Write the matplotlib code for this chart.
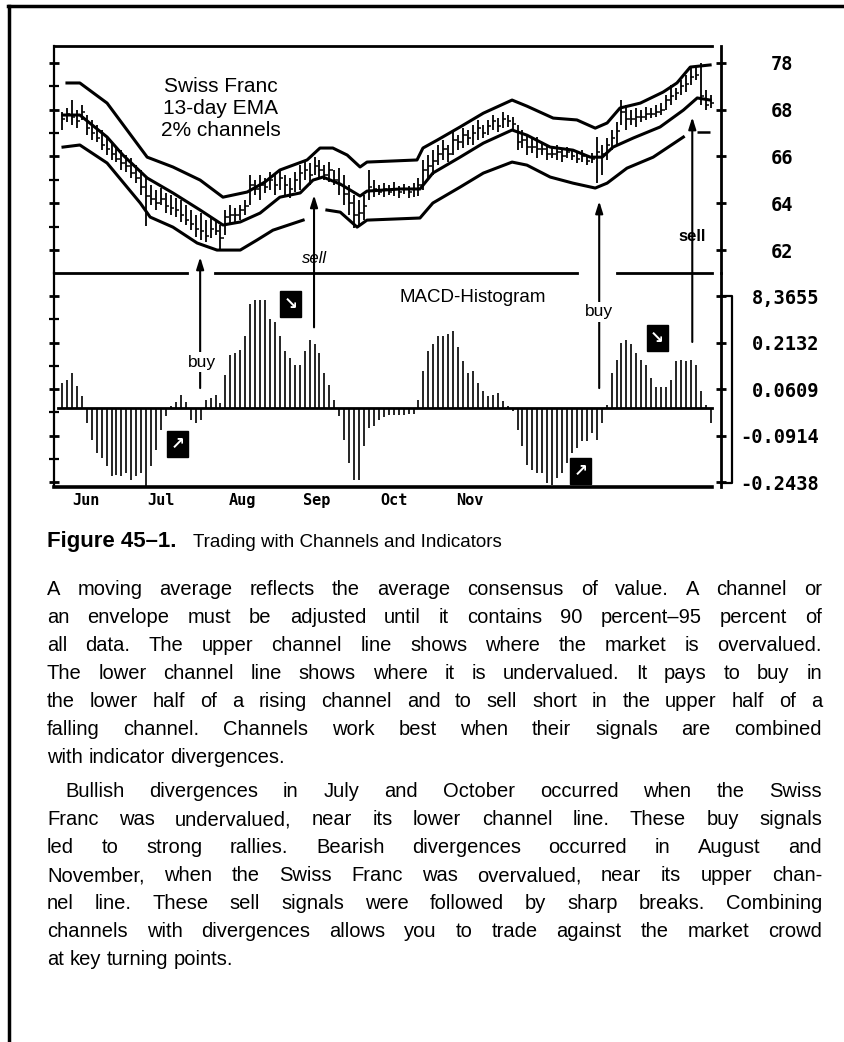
import numpy as np
import matplotlib
matplotlib.use("Agg")
import matplotlib.pyplot as plt
from matplotlib import font_manager as fm
from matplotlib.font_manager import FontProperties
from matplotlib.ticker import FixedLocator

W, H = 845, 1042

# ---------------- data ----------------
month_labels = ["Jun", "Jul", "Aug", "Sep", "Oct", "Nov"]
month_pos = [4.8, 20.0, 36.4, 51.5, 67.1, 82.4]

price_ticks = [62, 64, 66, 68, 70]
price_tick_labels = ["62", "64", "66", "68", "78"]
price_minor_ticks = [61, 62, 63, 64, 65, 66, 67, 68, 69, 70]
hist_ticks = [0.3655, 0.2132, 0.0609, -0.0914, -0.2438]
hist_tick_labels = ["8,3655", "0.2132", "0.0609", "-0.0914", "-0.2438"]
hist_minor_ticks = [0.3655, 0.2894, 0.2132, 0.1371, 0.0609, -0.0152, -0.0914, -0.1676, -0.2438]

bar_high = [67.90, 68.07, 68.41, 67.98, 68.20, 67.77, 67.56, 67.34, 67.13, 66.83,
            66.62, 66.40, 66.27, 66.06, 65.94, 65.63, 65.42, 65.08, 64.78, 64.56,
            64.65, 64.44, 64.35, 64.22, 64.14, 63.92, 63.71, 63.50, 63.58, 63.28,
            63.37, 63.28, 63.07, 63.71, 63.92, 63.79, 63.92, 64.14, 65.21, 64.99,
            65.21, 65.08, 65.34, 65.21, 65.42, 65.21, 65.08, 65.34, 65.63, 65.85,
            65.72, 65.97, 65.85, 65.63, 65.76, 65.42, 65.51, 65.21, 64.78, 64.35,
            64.14, 64.35, 65.42, 64.99, 64.78, 64.86, 64.78, 64.91, 64.74, 64.82,
            64.74, 64.86, 65.08, 65.85, 66.06, 66.27, 66.49, 66.70, 66.49, 67.13,
            66.91, 67.21, 67.13, 67.34, 67.56, 67.34, 67.56, 67.77, 67.64, 67.90,
            67.77, 67.69, 67.34, 67.13, 66.91, 66.79, 66.83, 66.62, 66.49, 66.36,
            66.49, 66.27, 66.40, 66.27, 66.19, 66.27, 66.06, 66.15, 66.83, 66.49,
            66.79, 67.13, 67.47, 68.41, 68.20, 67.98, 68.07, 67.98, 68.11, 68.07,
            68.20, 68.28, 68.62, 69.05, 68.92, 69.26, 69.48, 69.78, 69.91, 70.00,
            68.84, 68.62]
bar_low = [67.13, 67.47, 67.34, 67.21, 67.56, 66.91, 66.70, 66.62, 66.27, 66.06,
           65.85, 65.76, 65.42, 65.34, 65.08, 64.86, 64.35, 63.02, 63.92, 63.71,
           63.92, 63.58, 63.50, 63.41, 63.20, 63.07, 62.85, 62.56, 62.43, 62.34,
           62.51, 62.64, 62.00, 62.64, 63.07, 63.20, 63.28, 63.50, 63.92, 64.35,
           64.14, 64.44, 64.56, 64.35, 64.56, 64.35, 64.22, 64.48, 64.56, 64.99,
           64.78, 65.21, 65.08, 64.99, 64.91, 64.78, 64.35, 63.92, 63.50, 62.94,
           63.07, 63.28, 64.14, 64.26, 64.35, 64.26, 64.35, 64.31, 64.22, 64.39,
           64.22, 64.26, 64.31, 64.56, 64.99, 65.21, 65.63, 65.85, 65.76, 66.06,
           66.27, 66.36, 66.49, 66.49, 66.70, 66.79, 66.91, 67.13, 67.04, 67.21,
           67.26, 67.13, 66.27, 66.36, 66.06, 66.15, 65.94, 66.06, 65.85, 65.94,
           65.85, 65.76, 65.94, 65.85, 65.72, 65.76, 65.63, 65.72, 64.86, 65.21,
           65.85, 66.27, 66.49, 67.34, 67.13, 67.34, 67.26, 67.47, 67.56, 67.64,
           67.69, 67.77, 67.98, 68.20, 68.41, 68.62, 68.75, 69.05, 69.26, 68.20,
           67.98, 68.07]
bar_close = [67.6, 67.8, 67.7, 67.5, 67.9, 67.2, 67.0, 66.8, 66.5, 66.3,
             66.1, 65.9, 65.7, 65.6, 65.3, 65.1, 64.7, 64.3, 64.2, 64.0,
             64.2, 63.9, 63.8, 63.7, 63.5, 63.3, 63.1, 62.9, 62.8, 62.6,
             62.9, 62.8, 62.5, 63.4, 63.5, 63.5, 63.7, 63.9, 64.8, 64.6,
             64.8, 64.7, 65.0, 64.8, 65.1, 64.8, 64.6, 65.0, 65.3, 65.4,
             65.2, 65.6, 65.4, 65.2, 65.4, 65.0, 64.8, 64.4, 64.0, 63.5,
             63.6, 63.9, 64.7, 64.6, 64.5, 64.6, 64.5, 64.6, 64.5, 64.6,
             64.5, 64.6, 64.8, 65.4, 65.6, 65.8, 66.1, 66.3, 66.1, 66.7,
             66.6, 66.9, 66.8, 67.0, 67.2, 67.0, 67.3, 67.5, 67.3, 67.6,
             67.5, 67.4, 66.6, 66.7, 66.4, 66.4, 66.3, 66.3, 66.1, 66.1,
             66.2, 66.0, 66.2, 66.0, 65.9, 66.0, 65.8, 65.9, 66.2, 66.1,
             66.5, 66.8, 67.1, 67.9, 67.6, 67.6, 67.7, 67.7, 67.8, 67.8,
             67.9, 68.0, 68.4, 68.6, 68.7, 69.0, 69.1, 69.4, 69.5, 68.6,
             68.2, 68.3]

ema_day = [0.2, 3.6, 9.1, 12.3, 17.2, 22.4, 27.9, 32.5, 36.0, 40.0, 44.0, 48.1,
           50.7, 52.7, 56.2, 60.2, 61.6, 68.3, 72.3, 74.9, 80.4, 85.1, 90.9, 93.9,
           98.6, 103.2, 106.7, 109.1, 111.3, 115.4, 120.8, 125.5, 128.3, 130.9]
ema_val = [67.77, 67.77, 66.83, 66.06, 65.08, 64.44, 63.71, 63.07, 63.20, 63.58,
           64.26, 64.44, 64.99, 65.12, 64.82, 64.31, 64.52, 64.61, 64.61, 65.29,
           65.97, 66.57, 67.13, 66.91, 66.40, 66.27, 65.97, 65.97, 66.40, 66.79,
           67.26, 67.98, 68.50, 68.41]

upper_day = [1.0, 3.6, 9.1, 17.2, 22.4, 27.9, 32.5, 37.4, 41.0, 44.0, 49.5, 52.1,
             54.7, 57.6, 60.2, 61.6, 71.7, 72.9, 75.8, 80.4, 85.1, 90.9, 93.9, 99.2,
             104.0, 107.7, 110.1, 112.7, 116.8, 121.4, 124.2, 126.9, 130.9]
upper_val = [69.14, 69.14, 68.28, 65.97, 65.55, 64.99, 64.26, 64.48, 64.91, 65.42,
             65.85, 66.36, 66.36, 66.06, 65.55, 65.76, 65.85, 66.36, 66.70, 67.26,
             67.85, 68.41, 68.15, 67.64, 67.56, 67.21, 67.43, 68.07, 68.28, 68.75,
             69.14, 69.82, 69.91]

lower_day = [0.2, 3.6, 9.1, 15.8, 17.8, 22.4, 27.3, 31.3, 36.0, 39.4, 42.6, 48.7,
             np.nan, 53.5, 56.2, 59.6, 61.6, 72.3, 74.9, 80.4, 85.1, 90.9, 93.9,
             98.6, 103.2, 107.7, 110.1, 114.1, 119.4, 125.5]
lower_val = [66.40, 66.49, 65.72, 64.01, 63.41, 62.98, 62.30, 62.00, 62.00, 62.43,
             62.85, 63.28, np.nan, 63.71, 63.62, 62.98, 63.28, 63.37, 64.01, 64.69,
             65.29, 65.76, 65.63, 65.12, 64.86, 64.65, 64.86, 65.50, 65.97, 66.83]

macd_hist = [0.082, 0.089, 0.115, 0.072, 0.039, -0.049, -0.105, -0.148, -0.164, -0.190,
             -0.223, -0.220, -0.223, -0.213, -0.236, -0.223, -0.213, -0.256, -0.190, -0.138,
             -0.072, -0.026, 0.005, 0.020, 0.040, 0.020, -0.040, -0.050, -0.040, 0.026,
             0.030, 0.043, 0.015, 0.108, 0.174, 0.180, 0.190, 0.236, 0.338, 0.354,
             0.354, 0.354, 0.289, 0.279, 0.236, 0.187, 0.164, 0.141, 0.138, 0.187,
             0.220, 0.207, 0.180, 0.115, 0.075, 0.026, -0.026, -0.105, -0.180, -0.236,
             -0.236, -0.125, -0.066, -0.060, -0.040, -0.030, -0.025, -0.025, -0.025, -0.025,
             -0.022, -0.020, 0.026, 0.120, 0.187, 0.207, 0.236, 0.236, 0.240, 0.252,
             0.197, 0.154, 0.115, 0.121, 0.082, 0.056, 0.039, 0.043, 0.049, 0.023,
             0.005, -0.010, -0.072, -0.125, -0.187, -0.203, -0.213, -0.213, -0.246, -0.252,
             -0.230, -0.213, -0.180, -0.148, -0.131, -0.108, -0.110, -0.082, -0.105, -0.049,
             0.007, 0.115, 0.157, 0.213, 0.223, 0.207, 0.180, 0.157, 0.138, 0.098,
             0.066, 0.066, 0.066, 0.089, 0.154, 0.157, 0.154, 0.157, 0.138, 0.056,
             0.010, -0.049]

days = np.arange(len(macd_hist))

# signals: label, day, arrow tip (price), arrow base (histogram)
signal_labels = ["buy", "sell", "buy", "sell"]
signal_days = [27.9, 50.9, 108.5, 127.3]
signal_tip = [61.70, 64.35, 64.09, 67.68]
signal_base = [0.064, 0.263, 0.064, 0.215]

box_arrows = ["\u2198", "\u2197", "\u2197", "\u2198"]
box_days = [46.1, 23.4, 104.8, 120.2]
box_vals = [0.339, -0.119, -0.208, 0.228]

caption_bold = "Figure 45\u20131."
caption_text = "Trading with Channels and Indicators"
paragraphs = [
    ["A moving average reflects the average consensus of value. A channel or",
     "an envelope must be adjusted until it contains 90 percent\u201395 percent of",
     "all data. The upper channel line shows where the market is overvalued.",
     "The lower channel line shows where it is undervalued. It pays to buy in",
     "the lower half of a rising channel and to sell short in the upper half of a",
     "falling channel. Channels work best when their signals are combined",
     "with indicator divergences."],
    ["Bullish divergences in July and October occurred when the Swiss",
     "Franc was undervalued, near its lower channel line. These buy signals",
     "led to strong rallies. Bearish divergences occurred in August and",
     "November, when the Swiss Franc was overvalued, near its upper chan-",
     "nel line. These sell signals were followed by sharp breaks. Combining",
     "channels with divergences allows you to trade against the market crowd",
     "at key turning points."],
]

# ---------------- figure ----------------
fig = plt.figure(figsize=(W / 100, H / 100), dpi=100)
fig.patch.set_facecolor("white")


def fx(x):
    return x / W


def fy(y):
    return 1 - y / H


names = {f.name for f in fm.fontManager.ttflist}
body_font = "Liberation Sans Narrow" if "Liberation Sans Narrow" in names else "Liberation Sans"
mono = "DejaVu Sans Mono"

ax_p = fig.add_axes([fx(54), fy(273), (721 - 54) / W, (273 - 46) / H])
ax_h = fig.add_axes([fx(54), fy(487), (721 - 54) / W, (487 - 273) / H])

XL = (-1.62, 133.1)
END = 131.3
ax_p.set_xlim(XL)
ax_p.set_ylim(61.02, 70.72)
ax_h.set_xlim(XL)
ax_h.set_ylim(-0.260, 0.441)

for ax in (ax_p, ax_h):
    ax.set_facecolor("none")
    ax.spines["left"].set_linewidth(1.6)
    ax.spines["right"].set_linewidth(2.0)

ax_p.spines["bottom"].set_visible(False)
ax_p.spines["top"].set_bounds(XL[0], END)
ax_p.spines["top"].set_linewidth(2.0)
ax_h.spines["top"].set_visible(False)
ax_h.spines["bottom"].set_bounds(XL[0], END)
ax_h.spines["bottom"].set_linewidth(2.6)

# price panel
ax_p.vlines(days, bar_low, bar_high, color="black", lw=1.3)
ax_p.hlines(bar_close, days, days + 0.7, color="black", lw=1.1)
ax_p.plot(ema_day, ema_val, color="black", lw=2.2, solid_joinstyle="round")
ax_p.plot(upper_day, upper_val, color="black", lw=2.2, solid_joinstyle="round")
ax_p.plot(lower_day, lower_val, color="black", lw=2.2, solid_joinstyle="round")
ax_p.hlines(67.04, 128.3, 130.9, color="black", lw=1.8)

ax_p.set_xticks([])
ax_p.set_yticks(price_ticks)
ax_p.set_yticklabels(price_tick_labels)
ax_p.yaxis.set_minor_locator(FixedLocator(price_minor_ticks))
ax_p.tick_params(axis="y", which="major", left=True, right=True, labelleft=False,
                 labelright=True, direction="inout", length=7, width=2, pad=32)
ax_p.tick_params(axis="y", which="minor", left=True, right=False,
                 direction="inout", length=7, width=1.6)
for lab in ax_p.get_yticklabels():
    lab.set_fontfamily(mono)
    lab.set_fontweight("bold")
    lab.set_fontsize(13.5)

# histogram panel
ax_h.vlines(days, 0, macd_hist, color="black", lw=1.2)
ax_h.axhline(0, xmin=(58 - 54) / 667, xmax=(END - XL[0]) / (XL[1] - XL[0]), color="black", lw=2)
ax_h.set_yticks(hist_ticks)
ax_h.set_yticklabels(hist_tick_labels)
ax_h.yaxis.set_minor_locator(FixedLocator(hist_minor_ticks))
ax_h.tick_params(axis="y", which="major", left=True, right=True, labelleft=False,
                 labelright=True, direction="inout", length=7, width=2, pad=67)
ax_h.tick_params(axis="y", which="minor", left=True, right=False,
                 direction="inout", length=7, width=1.6)
for lab in ax_h.get_yticklabels():
    lab.set_fontfamily(mono)
    lab.set_fontweight("bold")
    lab.set_fontsize(13.5)
    lab.set_horizontalalignment("right")
ax_h.set_xticks(month_pos)
ax_h.set_xticklabels(month_labels)
ax_h.tick_params(axis="x", length=0, pad=4)
for lab in ax_h.get_xticklabels():
    lab.set_fontfamily(mono)
    lab.set_fontweight("bold")
    lab.set_fontsize(11)

# separator between panels (gaps around buy arrows)
xt = ax_h.get_xaxis_transform()
for a, b in [(XL[0], 25.3), (30.9, 104.0), (112.1, END)]:
    ax_h.plot([a, b], [1, 1], transform=xt, color="black", lw=2, clip_on=False)

# bracket at right of histogram scale
ta = ax_h.transAxes
ax_h.plot([1.0, 1.0165, 1.0165, 1.0], [0.8925, 0.8925, 0.0187, 0.0187], transform=ta,
          color="black", lw=1.6, clip_on=False)

# signal arrows
for lab, d, tip, base in zip(signal_labels, signal_days, signal_tip, signal_base):
    ax_h.annotate("", xy=(d, tip), xycoords=ax_p.transData, xytext=(d, base),
                  textcoords=ax_h.transData, annotation_clip=False,
                  arrowprops=dict(arrowstyle="-|>,head_length=0.7,head_width=0.22",
                                  lw=1.5, color="black", shrinkA=0, shrinkB=0))

bb = dict(boxstyle="square,pad=0.15", fc="white", ec="none")
ax_h.text(signal_days[0] + 0.3, 0.149, signal_labels[0], ha="center", va="center",
          fontsize=12.5, family="Liberation Sans", bbox=bb)
ax_p.text(signal_days[1], 61.66, signal_labels[1], ha="center", va="center",
          fontsize=12, family="Liberation Sans", style="italic", bbox=bb)
ax_h.text(signal_days[2], 0.314, signal_labels[2], ha="center", va="center",
          fontsize=12.5, family="Liberation Sans", bbox=bb)
ax_p.text(signal_days[3], 62.56, signal_labels[3], ha="center", va="center",
          fontsize=12, family="Liberation Sans", weight="bold", bbox=bb)

for sym, d, v in zip(box_arrows, box_days, box_vals):
    ax_h.text(d, v, sym, ha="center", va="center", color="white", fontsize=12,
              weight="bold", family="DejaVu Sans",
              bbox=dict(boxstyle="square,pad=0.22", fc="black", ec="black"))

# panel titles
fig.text(fx(221), fy(109), "Swiss Franc\n13-day EMA\n2% channels", ha="center", va="center",
         fontsize=15, family="Liberation Sans", linespacing=1.2)
fig.text(fx(473), fy(298), "MACD-Histogram", ha="center", va="center",
         fontsize=13.5, family="Liberation Sans")

# page frame
fig.add_artist(plt.Line2D([fx(8), fx(845)], [fy(6), fy(6)], color="black", lw=2.5))
fig.add_artist(plt.Line2D([fx(9), fx(9)], [fy(6), fy(1042)], color="black", lw=2.5))

# caption
fig.canvas.draw()
renderer = fig.canvas.get_renderer()
cap_b = FontProperties(family=body_font, weight="bold", size=16)
cap_r = FontProperties(family=body_font, size=13.5)
fig.text(fx(47), fy(547), caption_bold, fontproperties=cap_b, va="baseline")
fig.text(fx(193), fy(547), caption_text, fontproperties=cap_r, va="baseline")


def tw(s, prop):
    w, h, d = renderer.get_text_width_height_descent(s, prop, ismath=False)
    return w


body = FontProperties(family=body_font, size=14.5)
LEFT, RIGHT = 47, 822
space_w = tw("a a", body) - tw("aa", body)
baselines = [[595, 623, 651, 679, 707, 735, 763], [797, 825, 853, 881, 909, 937, 965]]
for para, ys in zip(paragraphs, baselines):
    for i, (line, yb) in enumerate(zip(para, ys)):
        words = line.split(" ")
        x0 = LEFT + (18 if (i == 0 and para is paragraphs[1]) else 0)
        widths = [tw(w_, body) for w_ in words]
        last = i == len(para) - 1
        if last or len(words) < 2:
            gap = space_w
        else:
            gap = (RIGHT - x0 - sum(widths)) / (len(words) - 1)
        x = x0
        for w_, wd in zip(words, widths):
            fig.text(fx(x), fy(yb), w_, fontproperties=body, va="baseline", ha="left")
            x += wd + gap

fig.savefig("out.png", dpi=100, facecolor="white")
